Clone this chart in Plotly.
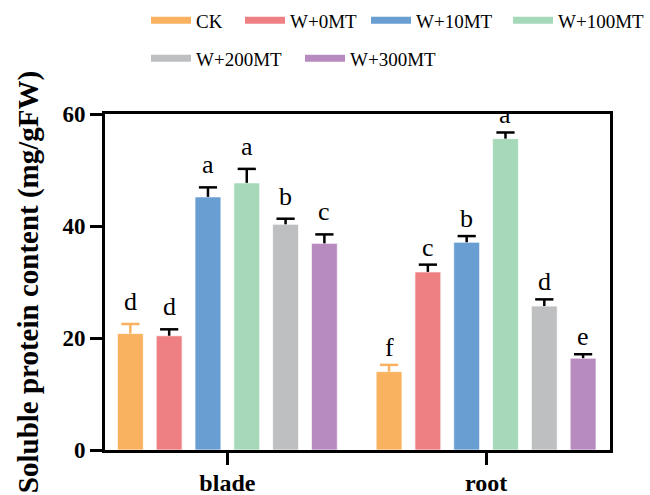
import plotly.graph_objects as go

# Tissue groups and treatments
tissues = ["blade", "root"]
treatments = ["CK", "W+0MT", "W+10MT", "W+100MT", "W+200MT", "W+300MT"]

# Soluble protein content (mg/gFW), mean and SD for each treatment: [blade, root]
ck_mean = [20.8, 14.0]
w0_mean = [20.4, 31.8]
w10_mean = [45.2, 37.1]
w100_mean = [47.7, 55.6]
w200_mean = [40.3, 25.7]
w300_mean = [36.9, 16.4]

ck_sd = [1.7, 1.2]
w0_sd = [1.15, 1.3]
w10_sd = [1.7, 1.1]
w100_sd = [2.5, 1.1]
w200_sd = [1.0, 1.2]
w300_sd = [1.6, 0.7]

# Significance letters: [blade, root]
ck_sig = ["d", "f"]
w0_sig = ["d", "c"]
w10_sig = ["a", "b"]
w100_sig = ["a", "a"]
w200_sig = ["b", "d"]
w300_sig = ["c", "e"]

y_ticks = [0, 20, 40, 60]

means = [ck_mean, w0_mean, w10_mean, w100_mean, w200_mean, w300_mean]
sds = [ck_sd, w0_sd, w10_sd, w100_sd, w200_sd, w300_sd]
sigs = [ck_sig, w0_sig, w10_sig, w100_sig, w200_sig, w300_sig]

colors = ["#F9B360", "#EE8083", "#699ED3", "#A6D9BA", "#BEBFC1", "#B88BC0"]
err_colors = ["#F9B360", "black", "black", "black", "black", "black"]

SERIF = "Liberation Serif, Times New Roman, serif"
W, H = 650, 495

x_pos = list(range(len(tissues)))
bargap = 0.1
bargroupgap = 1 / 3
n = len(treatments)
slot = (1 - bargap) / n


def bar_offset(i):
    """Centre offset of the i-th bar inside a grouped category."""
    return -(1 - bargap) / 2 + slot * (i + 0.5)


fig = go.Figure()

for i, name in enumerate(treatments):
    # bars with the upward error stem (caps drawn separately below)
    fig.add_trace(go.Bar(
        x=x_pos, y=means[i], name=name, showlegend=False,
        marker=dict(color=colors[i], line=dict(color="rgba(255,255,255,0.7)", width=1)),
        error_y=dict(type="data", array=sds[i], arrayminus=[0] * len(tissues),
                     symmetric=False, color=err_colors[i], thickness=2.5, width=0),
    ))

for i, name in enumerate(treatments):
    # error bar caps at mean + SD
    fig.add_trace(go.Scatter(
        x=[xc + bar_offset(i) for xc in x_pos],
        y=[m + s for m, s in zip(means[i], sds[i])],
        mode="markers", showlegend=False, hoverinfo="skip",
        marker=dict(symbol="line-ew", size=13,
                    line=dict(color=err_colors[i], width=2.5)),
    ))

# Legend entries: one wide flat swatch per treatment, each in its own legend box
legend_px = [(145, 20.5), (239, 20.5), (365, 20.5), (507, 20.5), (145, 58.5), (299, 58.5)]
for i, name in enumerate(treatments):
    lg = "legend" if i == 0 else f"legend{i + 1}"
    fig.add_trace(go.Scatter(
        x=[None], y=[None], mode="lines", name=name, legend=lg,
        line=dict(color=colors[i], width=7), showlegend=True,
    ))
    px, py = legend_px[i]
    fig.update_layout({lg: dict(
        x=(px + 1) / W, y=1 - py / H, xref="container", yref="container",
        xanchor="left", yanchor="middle", orientation="h",
        font=dict(family=SERIF, size=19, color="black"),
        bgcolor="rgba(0,0,0,0)", borderwidth=0, itemwidth=40,
    )})

# Significance letters above each error bar
group_shift = [6, 1]
for i in range(n):
    for j, xc in enumerate(x_pos):
        fig.add_annotation(
            x=xc + bar_offset(i), y=means[i][j] + sds[i][j], text=sigs[i][j],
            showarrow=False, yanchor="bottom", xanchor="center",
            yshift=group_shift[j],
            font=dict(family=SERIF, size=26, color="black"),
        )

fig.update_layout(
    width=W, height=H,
    margin=dict(l=105, r=40, t=114, b=45),
    paper_bgcolor="white", plot_bgcolor="white",
    barmode="group", bargap=bargap, bargroupgap=bargroupgap,
    xaxis=dict(
        range=[-0.473, 1.479], tickvals=x_pos, ticktext=tissues,
        showline=True, linecolor="black", linewidth=3, mirror=True,
        ticks="outside", ticklen=12, tickwidth=3, tickcolor="black",
        showgrid=False, zeroline=False, automargin=False,
        ticklabelstandoff=-3,
        tickfont=dict(family=SERIF, size=24, color="black", weight="bold"),
    ),
    yaxis=dict(
        range=[0, 60], tickvals=y_ticks,
        showline=True, linecolor="black", linewidth=3, mirror=True,
        ticks="outside", ticklen=12, tickwidth=3, tickcolor="black",
        showgrid=False, zeroline=False, automargin=False,
        tickfont=dict(family=SERIF, size=23, color="black", weight="bold"),
        title=dict(text="Soluble protein content (mg/gFW)", standoff=16,
                   font=dict(family=SERIF, size=29, color="black", weight="bold")),
    ),
)

fig.write_html("out.html")
